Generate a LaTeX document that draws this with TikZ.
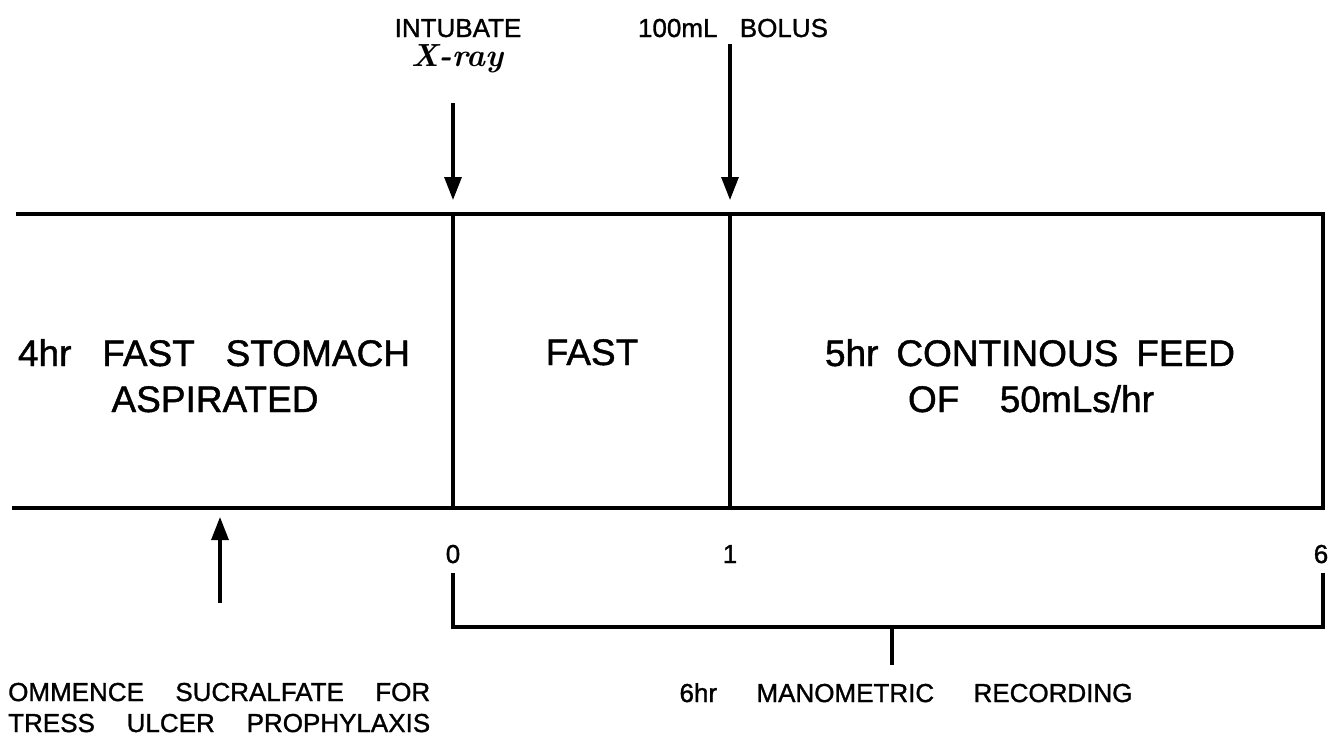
\documentclass[tikz,border=0pt]{standalone}
\usepackage{fontspec}
\setsansfont{Liberation Sans}[FakeBold=1.2]
\usetikzlibrary{arrows.meta}
\newcommand{\spreadline}[2]{\makebox[#1][s]{#2}}

\begin{document}
\begin{tikzpicture}[
  x=1pt,
  y=-1pt,
  >={Triangle[length=23pt,width=17pt]},
  rule/.style={line width=3.2pt},
  boxtext/.style={
    font=\fontsize{37}{44}\selectfont\sffamily,
    anchor=base,
    inner sep=0pt
  },
  smalltext/.style={
    font=\fontsize{26}{30}\selectfont\sffamily,
    anchor=base,
    inner sep=0pt
  },
  handtext/.style={
    font=\fontsize{32}{34}\selectfont\rmfamily\bfseries\itshape,
    anchor=base,
    inner sep=0pt
  }
]
\useasboundingbox (0,0) rectangle (1330,747);

% time line box
\coordinate (topleft) at (16,214);
\coordinate (topright) at (1323,214);
\coordinate (botright) at (1323,508);
\coordinate (botleft) at (12,508);
\coordinate (zerotop) at (453,214);
\coordinate (zerobot) at (453,508);
\coordinate (onetop) at (730,214);
\coordinate (onebot) at (730,508);
\draw[rule] (topleft) -- (topright) -- (botright) -- (botleft);
\draw[rule] (zerotop) -- (zerobot);
\draw[rule] (onetop) -- (onebot);

\node[boxtext] (stomach) at (214,366) {\spreadline{392pt}{4hr FAST STOMACH}};
\node[boxtext] (aspirated) at (215,412) {ASPIRATED};
\node[boxtext] (fast) at (592,365) {FAST};
\node[boxtext] (feed) at (1030,366) {\spreadline{410pt}{5hr CONTINOUS FEED}};
\node[boxtext] (rate) at (1031,412) {\spreadline{246pt}{OF 50mLs/hr}};

% events on top
\node[smalltext] (intubate) at (458,37) {INTUBATE};
\node[handtext] (xray) at (457,66) {X-ray};
\node[smalltext] (bolus) at (733,37) {\spreadline{190pt}{100mL BOLUS}};

\coordinate (intubatetail) at (453,103);
\coordinate (intubatetip) at (453,200);
\coordinate (bolustail) at (730,44);
\coordinate (bolustip) at (730,200);
\draw[rule,->] (intubatetail) -- (intubatetip);
\draw[rule,->] (bolustail) -- (bolustip);

% sucralfate
\node[smalltext,anchor=base west] (sucralfate) at (8,701)
  {\spreadline{422pt}{OMMENCE SUCRALFATE FOR}};
\node[smalltext,anchor=base west] (ulcer) at (8,732)
  {\spreadline{422pt}{TRESS ULCER PROPHYLAXIS}};
\coordinate (sucraltail) at (220,603);
\coordinate (sucraltip) at (220,517);
\draw[rule,->] (sucraltail) -- (sucraltip);

% recording bracket
\node[smalltext] (zero) at (453,563) {0};
\node[smalltext] (one) at (730,563) {1};
\node[smalltext] (six) at (1321,563) {6};
\coordinate (zerotick) at (453,573);
\coordinate (sixtick) at (1323,573);
\coordinate (zerocorner) at (453,627);
\coordinate (sixcorner) at (1323,627);
\coordinate (midtick) at (892,627);
\coordinate (midend) at (892,665);
\draw[rule] (zerotick) -- (zerocorner) -- (sixcorner) -- (sixtick);
\draw[rule] (midtick) -- (midend);
\node[smalltext] (recording) at (906,702)
  {\spreadline{453pt}{6hr MANOMETRIC RECORDING}};

\end{tikzpicture}
\end{document}
